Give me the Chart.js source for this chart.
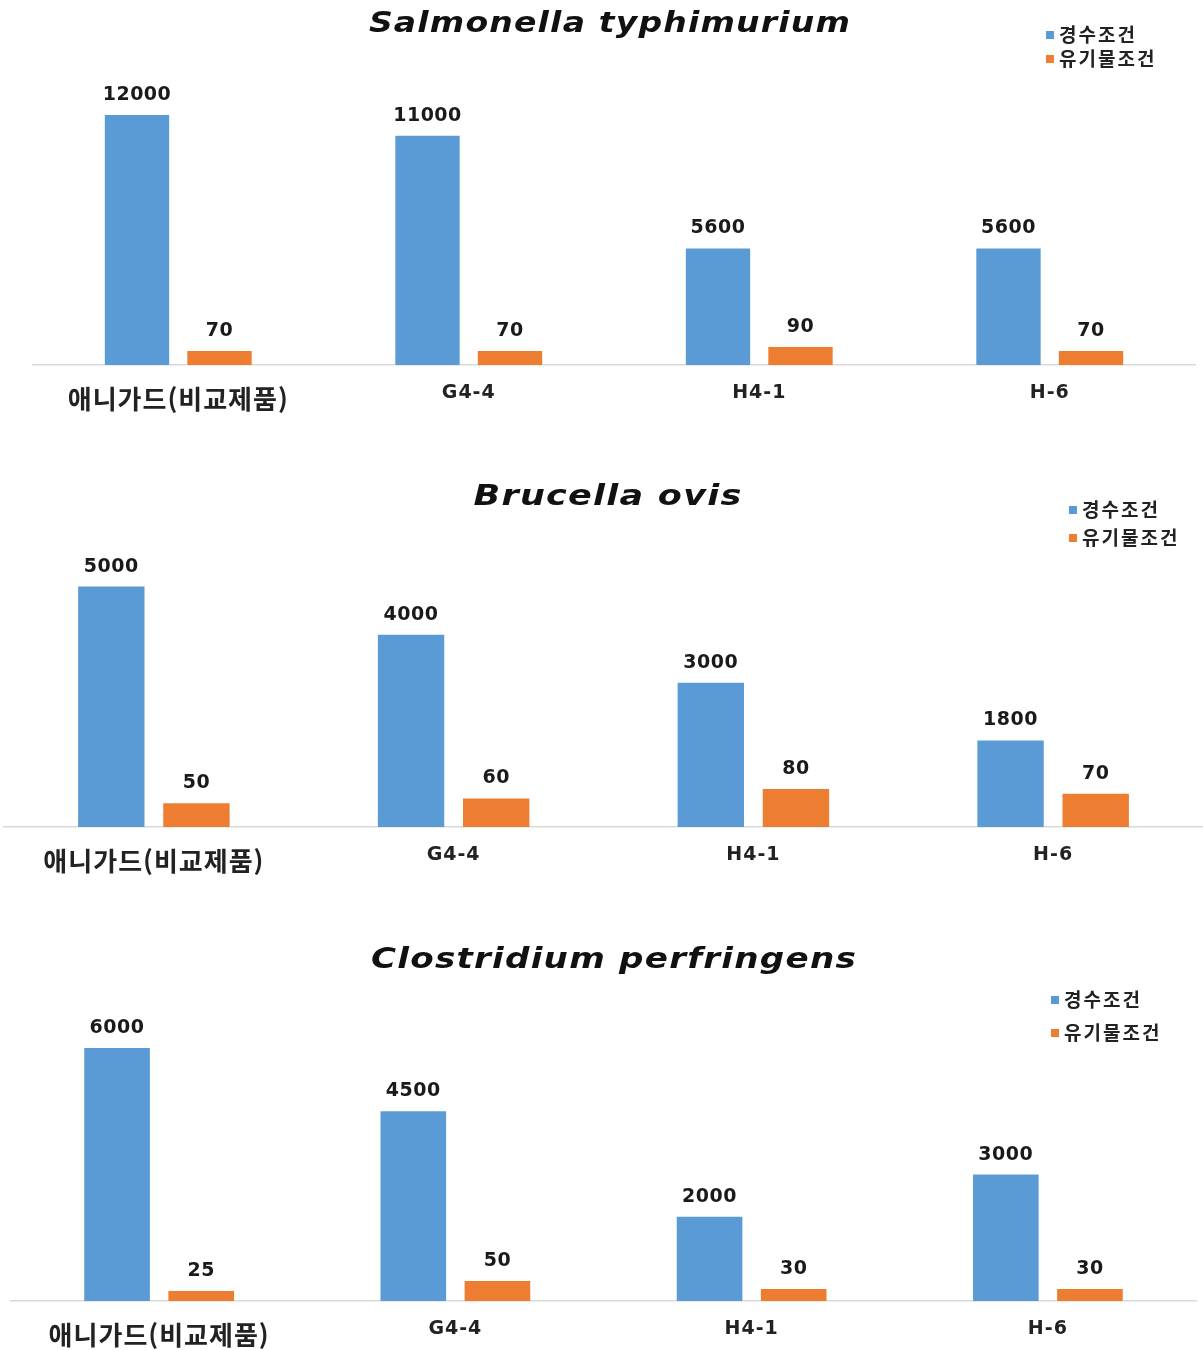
<!DOCTYPE html>
<html lang="ko">

<head>
    <meta charset="UTF-8">
    <title>소독 효력 시험</title>
    <script src="https://cdn.jsdelivr.net/npm/chart.js"></script>
    <style>
        body { margin: 0; background: #fff; }
        .painel { position: absolute; left: 0; }
    </style>
</head>

<body>
    <canvas id="grafico1" class="painel" width="1203" height="440" style="top:0"></canvas>
    <canvas id="grafico2" class="painel" width="1203" height="455" style="top:440px"></canvas>
    <canvas id="grafico3" class="painel" width="1203" height="455" style="top:895px"></canvas>

<script>
    // dados
    var categorias = ['애니가드(비교제품)', 'G4-4', 'H4-1', 'H-6'];
    var series = ['경수조건', '유기물조건'];

    var salmonellaHard = [12000, 11000, 5600, 5600];
    var salmonellaOrganic = [70, 70, 90, 70];

    var brucellaHard = [5000, 4000, 3000, 1800];
    var brucellaOrganic = [50, 60, 80, 70];

    var clostridiumHard = [6000, 4500, 2000, 3000];
    var clostridiumOrganic = [25, 50, 30, 30];

    var corAzul = '#5B9BD5';
    var corLaranja = '#ED7D31';

    // titulo, legenda e valores em cima das barras
    var desenhoExtra = {
        id: 'desenhoExtra',
        beforeDraw: function (chart) {
            chart.ctx.letterSpacing = '1px';
        },
        afterDatasetsDraw: function (chart) {
            var ctx = chart.ctx;
            ctx.save();
            ctx.letterSpacing = '0.5px';
            ctx.font = 'bold 19px "DejaVu Sans"';
            ctx.fillStyle = '#1a1a1a';
            ctx.textAlign = 'center';
            ctx.textBaseline = 'alphabetic';
            chart.data.datasets.forEach(function (ds, i) {
                chart.getDatasetMeta(i).data.forEach(function (barra, j) {
                    ctx.fillText(String(ds.data[j]), barra.x, barra.y - 15);
                });
            });
            ctx.restore();
        },
        afterDraw: function (chart, args, opts) {
            var ctx = chart.ctx;

            ctx.save();
            ctx.font = 'italic bold 28px "DejaVu Sans"';
            ctx.letterSpacing = '1px';
            ctx.fillStyle = '#111';
            ctx.textAlign = 'center';
            ctx.textBaseline = 'middle';
            ctx.translate(opts.tituloX, opts.tituloY);
            ctx.scale(opts.tituloEscala, 1);
            ctx.fillText(opts.titulo, 0, 0);
            ctx.restore();

            ctx.save();
            ctx.font = 'bold 19px "Noto Sans CJK KR"';
            ctx.letterSpacing = '2px';
            ctx.textAlign = 'left';
            ctx.textBaseline = 'middle';
            chart.data.datasets.forEach(function (ds, i) {
                var y = opts.legendaY[i];
                ctx.fillStyle = ds.backgroundColor;
                ctx.fillRect(opts.legendaX, y - 4, 8, 8);
                ctx.fillStyle = '#222';
                ctx.fillText(ds.label, opts.legendaX + 13, y);
            });
            ctx.restore();
        }
    };

    function fonteRotulo(c) {
        if (c.index === 0) {
            return { family: "'Noto Sans CJK KR'", size: 26, weight: 'bold', lineHeight: 0.92 };
        }
        return { family: "'DejaVu Sans'", size: 19, weight: 'bold', lineHeight: 0.65 };
    }

    function plotarGrafico(idCanvas, azul, laranja, cfg) {
        var ctx = document.getElementById(idCanvas).getContext('2d');
        return new Chart(ctx, {
            type: 'bar',
            data: {
                labels: categorias,
                datasets: [
                    {
                        label: series[0],
                        data: azul,
                        backgroundColor: corAzul,
                        yAxisID: 'y',
                        categoryPercentage: 0.568,
                        barPercentage: 0.78
                    },
                    {
                        label: series[1],
                        data: laranja,
                        backgroundColor: corLaranja,
                        yAxisID: 'y2',
                        categoryPercentage: 0.568,
                        barPercentage: 0.78
                    }
                ]
            },
            options: {
                responsive: false,
                animation: false,
                events: [],
                layout: { padding: cfg.padding },
                plugins: {
                    legend: { display: false },
                    title: { display: false },
                    tooltip: { enabled: false },
                    desenhoExtra: {
                        titulo: cfg.titulo,
                        tituloX: cfg.tituloX,
                        tituloY: cfg.tituloY,
                        tituloEscala: cfg.tituloEscala,
                        legendaX: cfg.legendaX,
                        legendaY: cfg.legendaY
                    }
                },
                scales: {
                    x: {
                        grid: { display: false, drawTicks: false },
                        border: { display: true, color: '#d9d9d9', width: 1.5 },
                        ticks: {
                            padding: 22,
                            color: '#222',
                            maxRotation: 0,
                            autoSkip: false,
                            font: fonteRotulo
                        }
                    },
                    y: { display: false, min: 0, max: cfg.maxAzul },
                    y2: { display: false, position: 'right', min: 0, max: cfg.maxLaranja }
                }
            },
            plugins: [desenhoExtra]
        });
    }

    plotarGrafico('grafico1', salmonellaHard, salmonellaOrganic, {
        titulo: 'Salmonella typhimurium',
        tituloX: 610, tituloY: 25, tituloEscala: 1.18,
        legendaX: 1046, legendaY: [35, 59],
        padding: { top: 100, left: 33, right: 8, bottom: 7 },
        maxAzul: 12720, maxLaranja: 1320
    });

    plotarGrafico('grafico2', brucellaHard, brucellaOrganic, {
        titulo: 'Brucella ovis',
        tituloX: 608, tituloY: 58, tituloEscala: 1.25,
        legendaX: 1069, legendaY: [70, 98],
        padding: { top: 135, left: 4, right: 0, bottom: 0 },
        maxAzul: 5240, maxLaranja: 528
    });

    plotarGrafico('grafico3', clostridiumHard, clostridiumOrganic, {
        titulo: 'Clostridium perfringens',
        tituloX: 614, tituloY: 66, tituloEscala: 1.22,
        legendaX: 1051, legendaY: [105, 138],
        padding: { top: 145, left: 11, right: 7, bottom: -19 },
        maxAzul: 6190, maxLaranja: 650
    });
</script>
</body>

</html>
